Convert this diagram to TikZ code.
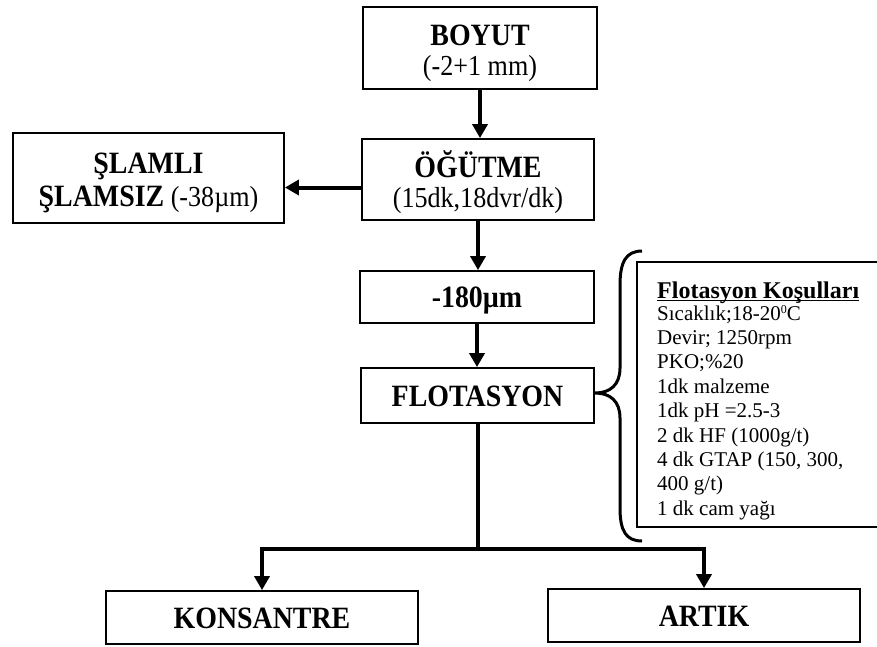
\documentclass[tikz,border=0pt]{standalone}
\usepackage{fontspec}
\setmainfont{Liberation Serif}
\newfontfamily\bigserif[FakeStretch=0.9]{Liberation Serif}
\usetikzlibrary{arrows.meta}
\begin{document}
\begin{tikzpicture}[x=1pt,y=-1pt,
  box/.style={draw, line width=1.8pt, inner sep=0pt, align=center},
  bt/.style={inner sep=0pt, font=\bigserif\bfseries\fontsize{31}{34}\selectfont},
  rt/.style={inner sep=0pt, font=\bigserif\fontsize{29}{32}\selectfont},
  one/.style={box, bt, text height=21pt, text depth=0pt},
  arr/.style={line width=4pt, -{Triangle[width=15pt,length=14pt]}},
  ln/.style={line width=4pt},
  cl/.style={anchor=base west, inner sep=0pt, font=\fontsize{21}{24}\selectfont}]
\useasboundingbox (0,0) rectangle (877,646);
\fill[white] (0,0) rectangle (877,646);

% two-line boxes
\node[box, minimum width=234pt, minimum height=82pt] (boyut) at (480,48) {};
\node[bt, anchor=base] (boyutA) at (480,45) {BOYUT};
\node[rt, anchor=base] (boyutB) at (480,75) {(-2+1 mm)};

\node[box, minimum width=232pt, minimum height=81pt] (ogutme) at (478,179.5) {};
\node[bt, anchor=base] (ogutmeA) at (478,177) {ÖĞÜTME};
\node[rt, anchor=base] (ogutmeB) at (478,207) {(15dk,18dvr/dk)};

\node[box, minimum width=271pt, minimum height=90pt] (slam) at (148.5,178) {};
\node[bt, anchor=base] (slamA) at (148.5,173) {ŞLAMLI};
\node[rt, anchor=base] (slamB) at (148.5,206) {{\bfseries\fontsize{31}{34}\selectfont ŞLAMSIZ} (-38µm)};

% one-line boxes
\node[one, minimum width=234pt, minimum height=52pt] (m180) at (477,297) {-180µm};
\node[one, minimum width=233pt, minimum height=55pt] (flot) at (477.5,395.5) {FLOTASYON};
\node[one, minimum width=312pt, minimum height=53pt] (kons) at (262,617.5) {KONSANTRE};
\node[one, minimum width=312pt, minimum height=53pt] (artik) at (704,615.5) {ARTIK};

% conditions box
\node[draw, line width=1.8pt, minimum width=242pt, minimum height=265pt, inner sep=0pt] (cond) at (758,394.5) {};
\node[anchor=base west, inner sep=0pt, font=\bfseries\fontsize{24}{26}\selectfont] (ctitle) at (657,298) {Flotasyon Koşulları};
\draw[line width=1.6pt] ([yshift=-2.5pt]ctitle.base west) -- ([yshift=-2.5pt]ctitle.base east);
\foreach \t [count=\i] in {{Sıcaklık;18-20\raisebox{6.5pt}{\fontsize{12}{12}\selectfont 0}C},{Devir; 1250rpm},{PKO;\%20},{1dk malzeme},{1dk pH =2.5-3},{2 dk HF (1000g/t)},{4 dk GTAP (150, 300,},{400 g/t)},{1 dk cam yağı}}
  \node[cl] (c\i) at (657,{320+24.4*(\i-1)}) {\t};

% brace
\draw[line width=3pt] (642,251) .. controls (626,251) and (620,262) .. (620,285)
  -- (620,368) .. controls (620,385) and (610,393) .. (595,393)
  .. controls (610,393) and (620,401) .. (620,418)
  -- (620,508) .. controls (620,531) and (626,541) .. (642,541);

% connectors
\draw[arr] (boyut.south) -- (boyut.south |- ogutme.north);
\draw[arr] ([yshift=-8pt]ogutme.west) -- ([yshift=-8pt]ogutme.west -| slam.east);
\draw[arr] (ogutme.south) -- (ogutme.south |- m180.north);
\draw[arr] (m180.south) -- (m180.south |- flot.north);
\coordinate (split) at (477.5,549);
\draw[ln] (flot.south) -- (split);
\draw[arr] (split) -| (kons.north);
\draw[arr] (split) -| (artik.north);
\end{tikzpicture}
\end{document}
